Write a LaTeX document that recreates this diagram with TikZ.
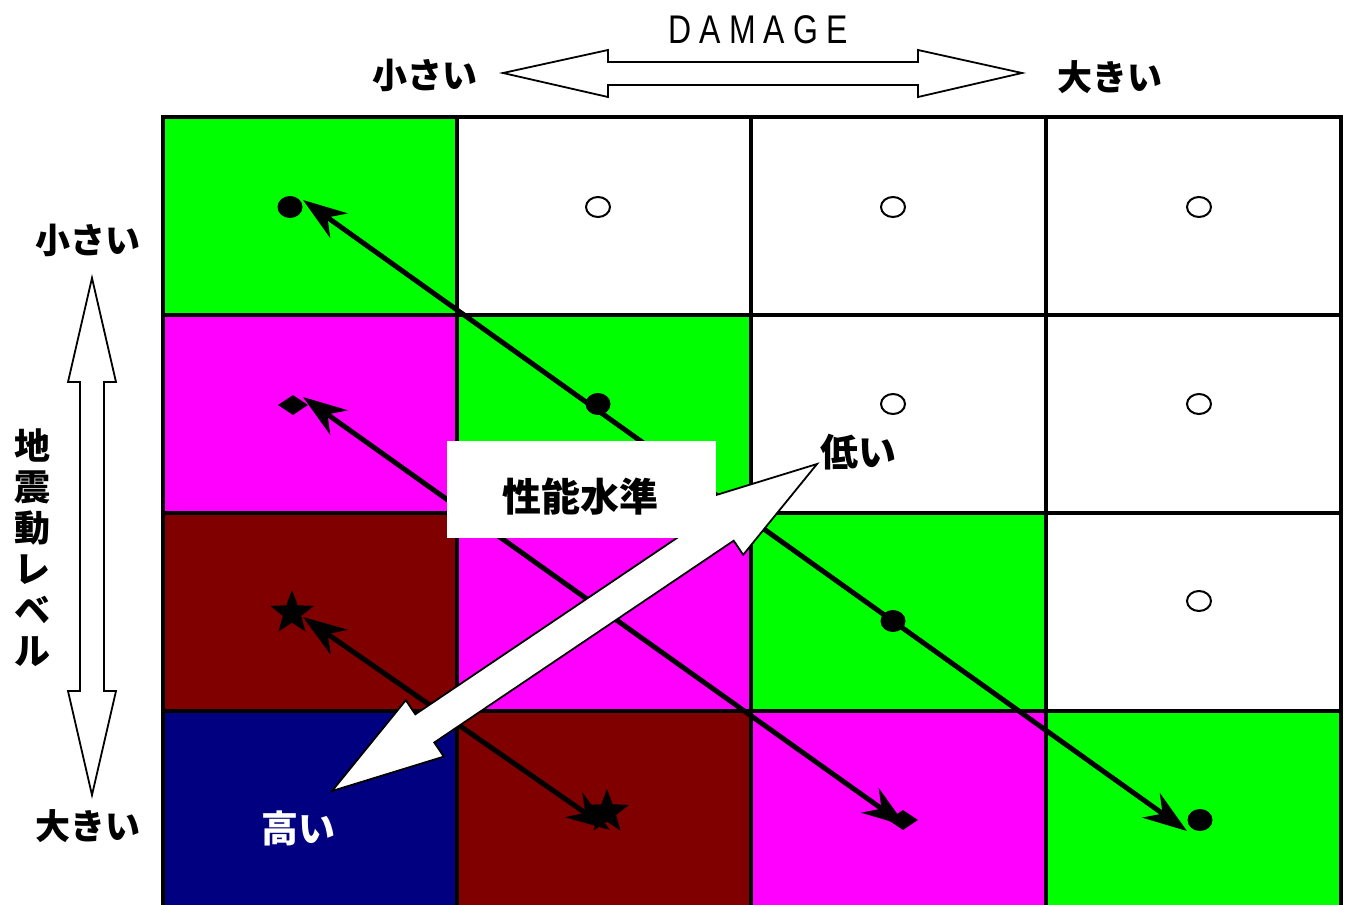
\documentclass[tikz,border=0pt]{standalone}
\usepackage{fontspec}
\setmainfont{Liberation Sans}
\newfontfamily\jp{Noto Sans CJK JP}
\usetikzlibrary{arrows.meta,shapes.geometric}
\definecolor{cgreen}{HTML}{00FF00}
\definecolor{cmag}{HTML}{FF00FF}
\definecolor{cmaroon}{HTML}{800000}
\definecolor{cnavy}{HTML}{000080}
\begin{document}
\begin{tikzpicture}[x=1pt,y=-1pt,
  gridline/.style={line width=3.5pt},
  jlab/.style={font=\jp\bfseries\fontsize{35}{35}\selectfont, inner sep=0pt},
  dotf/.style={ellipse, fill=black, minimum width=25pt, minimum height=22pt, inner sep=0pt},
  doto/.style={ellipse, draw=black, line width=2pt, fill=white, minimum width=24pt, minimum height=20pt, inner sep=0pt},
  diam/.style={diamond, fill=black, minimum width=30pt, minimum height=20pt, inner sep=0pt},
  starm/.style={star, star points=5, star point ratio=2.4, fill=black, minimum size=46pt, inner sep=0pt},
  conn/.style={line width=5pt, {Stealth[length=44pt,width=30pt,inset=14pt]}-{Stealth[length=44pt,width=30pt,inset=14pt]}},
  blockarrow/.style={fill=white, draw=black, line width=1.8pt, line join=miter}
]
\useasboundingbox (0,0) rectangle (1350,905);
\fill[white] (0,0) rectangle (1350,905);
\clip (0,0) rectangle (1350,905);
% cells
\fill[cgreen] (163,117) rectangle (457,315);
\fill[cmag] (163,315) rectangle (457,513);
\fill[cgreen] (457,315) rectangle (751,513);
\fill[cmaroon] (163,513) rectangle (457,711);
\fill[cmag] (457,513) rectangle (751,711);
\fill[cgreen] (751,513) rectangle (1046,711);
\fill[cnavy] (163,711) rectangle (457,915);
\fill[cmaroon] (457,711) rectangle (751,915);
\fill[cmag] (751,711) rectangle (1046,915);
\fill[cgreen] (1046,711) rectangle (1341,915);
% grid
\draw[gridline] (163,117) rectangle (1341,915);
\foreach \gx in {457,751,1046} \draw[gridline] (\gx,117) -- (\gx,915);
\foreach \gy in {315,513,711} \draw[gridline] (163,\gy) -- (1341,\gy);
% markers
\node[dotf] (f1) at (290,207) {};
\node[dotf] (f2) at (598,404) {};
\node[dotf] (f3) at (893,621) {};
\node[dotf] (f4) at (1200,820) {};
\node[doto] (o1) at (598,207) {};
\node[doto] (o2) at (893,207) {};
\node[doto] (o3) at (1199,207) {};
\node[doto] (o4) at (893,404) {};
\node[doto] (o5) at (1199,404) {};
\node[doto] (o6) at (1199,601) {};
\node[diam] (d1) at (293,405) {};
\node[diam] (d2) at (603,619) {};
\node[diam] (d3) at (903,820) {};
\node[starm] (s1) at (292,613) {};
\node[starm] (s2) at (607,812) {};
% black connectors
\coordinate (p1a) at (303,200);
\coordinate (p1b) at (1187,831);
\coordinate (p2a) at (303,397);
\coordinate (p2b) at (906,826);
\coordinate (p3a) at (303,617);
\coordinate (p3b) at (610,830);
\draw[conn] (p1a) -- (p1b);
\draw[conn] (p2a) -- (p2b);
\draw[conn] (p3a) -- (p3b);
% big white double arrow
\draw[blockarrow] (332,791) -- (405.8,700.2) -- (415.3,714.3) -- (714.7,512.5) -- (705.2,498.4)
  -- (817,464) -- (743.2,554.8) -- (733.7,540.7) -- (434.3,742.5) -- (443.8,756.6) -- cycle;
% label box
\fill[white] (447,441) rectangle (716,538);
\node[jlab, font=\jp\bfseries\fontsize{39}{39}\selectfont] (perf) at (580,497) {性能水準};
\node[jlab, font=\jp\bfseries\fontsize{38}{38}\selectfont] (low) at (858,452) {低い};
\node[jlab, text=white, font=\jp\bfseries\fontsize{37}{37}\selectfont] (high) at (298,828) {高い};
% top damage arrow
\draw[blockarrow] (503,73) -- (608,50) -- (608,62) -- (918,62) -- (918,50) -- (1022,73)
  -- (918,97) -- (918,85) -- (608,85) -- (608,97) -- cycle;
\node[inner sep=0pt, font=\fontsize{40}{40}\selectfont, xscale=0.8] (dmg) at (758,30) {D\hspace{10pt}A\hspace{10pt}M\hspace{10pt}A\hspace{10pt}G\hspace{10pt}E};
\node[jlab] (tsmall) at (425,75) {小さい};
\node[jlab] (tlarge) at (1110,77) {大きい};
% left level arrow
\draw[blockarrow] (92,278) -- (116,382) -- (104,382) -- (104,691) -- (116,691) -- (92,795)
  -- (68,691) -- (80,691) -- (80,382) -- (68,382) -- cycle;
\node[jlab] (lsmall) at (88,240) {小さい};
\node[jlab] (llarge) at (88,826) {大きい};
\node[jlab, align=center, font=\jp\bfseries\fontsize{36}{41}\selectfont] (lvl) at (32,548) {地\\震\\動\\レ\\ベ\\ル};
\end{tikzpicture}
\end{document}
